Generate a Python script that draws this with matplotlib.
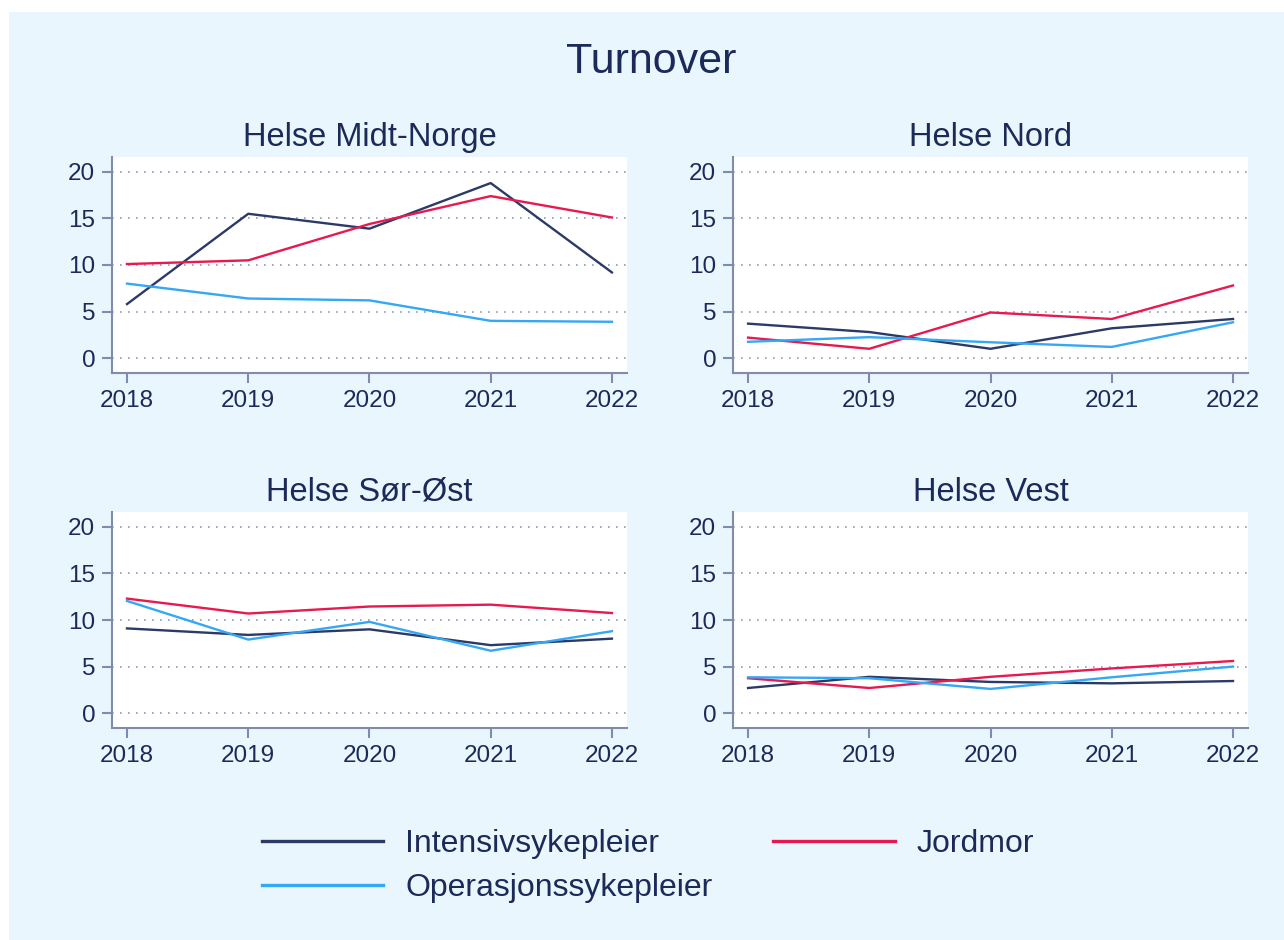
import matplotlib.pyplot as plt
from matplotlib.patches import Rectangle

plt.rcParams['font.family'] = ['Liberation Sans', 'DejaVu Sans']

# ---- data ----
years = [2018, 2019, 2020, 2021, 2022]
regions = ["Helse Midt-Norge", "Helse Nord", "Helse Sør-Øst", "Helse Vest"]

intensiv = {
    "Helse Midt-Norge": [5.8, 15.5, 13.9, 18.8, 9.2],
    "Helse Nord": [3.7, 2.8, 1.0, 3.2, 4.2],
    "Helse Sør-Øst": [9.1, 8.4, 9.0, 7.3, 8.0],
    "Helse Vest": [2.7, 3.9, 3.35, 3.2, 3.45],
}
jordmor = {
    "Helse Midt-Norge": [10.1, 10.5, 14.4, 17.4, 15.1],
    "Helse Nord": [2.2, 1.0, 4.9, 4.2, 7.8],
    "Helse Sør-Øst": [12.3, 10.7, 11.45, 11.65, 10.75],
    "Helse Vest": [3.75, 2.7, 3.9, 4.8, 5.6],
}
operasjon = {
    "Helse Midt-Norge": [8.0, 6.4, 6.2, 4.0, 3.9],
    "Helse Nord": [1.75, 2.25, 1.7, 1.2, 3.85],
    "Helse Sør-Øst": [12.05, 7.9, 9.8, 6.7, 8.8],
    "Helse Vest": [3.85, 3.75, 2.6, 3.85, 5.0],
}
yticks = [0, 5, 10, 15, 20]

# ---- style ----
bg = "#EAF6FD"
txt = "#1C2A5A"
axc = "#7F8CAE"
c_int = "#2B3A67"
c_jor = "#E8194F"
c_ope = "#34A7F5"

fig = plt.figure(figsize=(12.84, 9.40), dpi=100, facecolor="white")
fig.patches.append(Rectangle((9 / 1284, 0), 1, 1 - 12 / 940, transform=fig.transFigure,
                             facecolor=bg, edgecolor="none", zorder=-10))

positions = [
    [0.0872, 0.6032, 0.4011, 0.2298],
    [0.5709, 0.6032, 0.4011, 0.2298],
    [0.0872, 0.2255, 0.4011, 0.2298],
    [0.5709, 0.2255, 0.4011, 0.2298],
]

for reg, pos in zip(regions, positions):
    ax = fig.add_axes(pos)
    ax.set_facecolor("white")
    for y in yticks:
        ax.axhline(y, color="#8E9CB8", lw=1.2, ls=(0, (1, 3.8)), zorder=0)
    ax.plot(years, intensiv[reg], color=c_int, lw=1.7, label="Intensivsykepleier")
    ax.plot(years, jordmor[reg], color=c_jor, lw=1.7, label="Jordmor")
    ax.plot(years, operasjon[reg], color=c_ope, lw=1.7, label="Operasjonssykepleier")
    ax.set_xlim(2017.876, 2022.124)
    ax.set_ylim(-1.6, 21.6)
    ax.set_xticks(years)
    ax.set_yticks(yticks)
    ax.tick_params(colors=axc, labelcolor=txt, labelsize=17.5, length=7, width=1.5, pad=5)
    for s in ["top", "right"]:
        ax.spines[s].set_visible(False)
    for s in ["left", "bottom"]:
        ax.spines[s].set_color(axc)
        ax.spines[s].set_linewidth(1.5)
    ax.set_title(reg, fontsize=23.5, color=txt, pad=8)

fig.text(651 / 1284, 1 - 62 / 940, "Turnover", fontsize=31, color=txt, ha="center", va="center")

h, l = ax.get_legend_handles_labels()
order = [0, 2, 1]
leg = fig.legend([h[i] for i in order], [l[i] for i in order], ncol=2, loc="center",
                 bbox_to_anchor=(648 / 1284, 1 - 866 / 940), frameon=False, fontsize=23,
                 handlelength=3.8, handletextpad=0.7, columnspacing=1.9, labelspacing=0.45)
for t in leg.get_texts():
    t.set_color(txt)
for ln in leg.get_lines():
    ln.set_linewidth(2.4)

fig.savefig("out.png", dpi=100, facecolor=fig.get_facecolor())
